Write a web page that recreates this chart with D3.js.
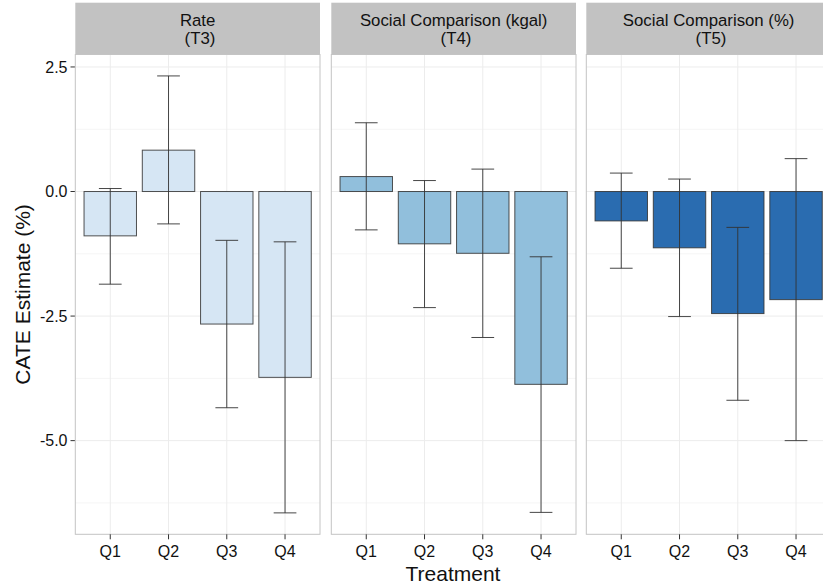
<!DOCTYPE html>
<html><head><meta charset="utf-8">
<script src="https://cdn.jsdelivr.net/npm/d3@7"></script>
<style>body{margin:0;background:#fff}svg{display:block;font-family:"Liberation Sans",Arial,sans-serif}</style>
</head><body>
<svg id="c" width="823" height="585"></svg>
<script>
const categories = ["Q1","Q2","Q3","Q4"];
const facets = ["Rate\n (T3)", "Social Comparison (kgal)\n (T4)", "Social Comparison (%)\n (T5)"];
const colors = ["#d6e6f4", "#91bfdc", "#2a6cb0"];
const est_T3 = [-0.89, 0.83, -2.66, -3.73];
const lo_T3  = [-1.86, -0.65, -4.34, -6.45];
const hi_T3  = [0.06, 2.32, -0.98, -1.01];
const est_T4 = [0.30, -1.05, -1.24, -3.87];
const lo_T4  = [-0.77, -2.33, -2.93, -6.44];
const hi_T4  = [1.38, 0.22, 0.45, -1.31];
const est_T5 = [-0.59, -1.13, -2.45, -2.17];
const lo_T5  = [-1.54, -2.51, -4.19, -5.00];
const hi_T5  = [0.37, 0.25, -0.72, 0.66];
const yTicks = [2.5, 0, -2.5, -5.0];
const yMinor = [1.25, -1.25, -3.75, -6.25];

const series = [
  {est: est_T3, lo: lo_T3, hi: hi_T3},
  {est: est_T4, lo: lo_T4, hi: hi_T4},
  {est: est_T5, lo: lo_T5, hi: hi_T5}
];

const svg = d3.select("#c");
const panelTop = 54.5, panelBottom = 534.3;
const panelLefts = [75.3, 331.3, 586.3];
const panelW = 244.7;
const stripTop = 2.7;

const y = d3.scaleLinear().domain([-6.88, 2.75]).range([panelBottom, panelTop]);

// y axis
yTicks.forEach(t => {
  svg.append("line").attr("x1", 70.5).attr("x2", 75.3).attr("y1", y(t)).attr("y2", y(t))
    .attr("stroke", "#333").attr("stroke-width", 1);
  svg.append("text").attr("x", 67.5).attr("y", y(t)).attr("dy", "0.36em").attr("text-anchor", "end")
    .attr("font-size", 16).attr("fill", "#111").text(t.toFixed(1));
});
svg.append("text").attr("transform", `translate(30,${(panelTop+panelBottom)/2}) rotate(-90)`)
  .attr("text-anchor", "middle").attr("font-size", 21).attr("fill", "#111").text("CATE Estimate (%)");

facets.forEach((f, i) => {
  const x0 = panelLefts[i];
  const step = panelW / 4.2;
  const x = d3.scalePoint().domain(categories).range([x0 + 0.6 * step, x0 + panelW - 0.6 * step]);
  const cx = c => x(c);
  const g = svg.append("g");
  // strip
  g.append("rect").attr("x", x0).attr("y", stripTop).attr("width", panelW).attr("height", panelTop - stripTop)
    .attr("fill", "#c2c2c2");
  const lines = f.split("\n");
  lines.forEach((l, k) => {
    g.append("text").attr("x", x0 + panelW / 2).attr("y", 20 + k * 18).attr("dy", "0.36em")
      .attr("text-anchor", "middle").attr("font-size", 16.8).attr("fill", "#111")
      .style("white-space", "pre").text(l);
  });
  // panel background
  g.append("rect").attr("x", x0).attr("y", panelTop).attr("width", panelW).attr("height", panelBottom - panelTop)
    .attr("fill", "#fff");
  // grid
  yMinor.forEach(t => g.append("line").attr("x1", x0).attr("x2", x0 + panelW).attr("y1", y(t)).attr("y2", y(t))
    .attr("stroke", "#f5f5f5").attr("stroke-width", 1));
  yTicks.forEach(t => g.append("line").attr("x1", x0).attr("x2", x0 + panelW).attr("y1", y(t)).attr("y2", y(t))
    .attr("stroke", "#ececec").attr("stroke-width", 1));
  categories.forEach(c => g.append("line").attr("x1", cx(c)).attr("x2", cx(c)).attr("y1", panelTop).attr("y2", panelBottom)
    .attr("stroke", "#ececec").attr("stroke-width", 1));
  // bars
  const s = series[i];
  const bw = 0.9 * step, ew = 0.39 * step;
  categories.forEach((c, k) => {
    const v = s.est[k];
    g.append("rect").attr("x", cx(c) - bw / 2).attr("width", bw)
      .attr("y", y(Math.max(0, v))).attr("height", Math.abs(y(v) - y(0)))
      .attr("fill", colors[i]).attr("stroke", "#333").attr("stroke-opacity", 0.85).attr("stroke-width", 1);
  });
  categories.forEach((c, k) => {
    const eg = g.append("g").attr("stroke", "#333").attr("stroke-width", 1).attr("stroke-opacity", 0.9);
    eg.append("line").attr("x1", cx(c)).attr("x2", cx(c)).attr("y1", y(s.hi[k])).attr("y2", y(s.lo[k]));
    eg.append("line").attr("x1", cx(c) - ew / 2).attr("x2", cx(c) + ew / 2).attr("y1", y(s.hi[k])).attr("y2", y(s.hi[k]));
    eg.append("line").attr("x1", cx(c) - ew / 2).attr("x2", cx(c) + ew / 2).attr("y1", y(s.lo[k])).attr("y2", y(s.lo[k]));
  });
  // border
  g.append("rect").attr("x", x0).attr("y", panelTop).attr("width", panelW).attr("height", panelBottom - panelTop)
    .attr("fill", "none").attr("stroke", "#c4c4c4").attr("stroke-width", 1);
  // x ticks
  categories.forEach(c => {
    g.append("line").attr("x1", cx(c)).attr("x2", cx(c)).attr("y1", panelBottom).attr("y2", panelBottom + 5)
      .attr("stroke", "#333");
    g.append("text").attr("x", cx(c)).attr("y", 551).attr("dy", "0.36em").attr("text-anchor", "middle")
      .attr("font-size", 16).attr("fill", "#111").text(c);
  });
});

svg.append("text").attr("x", 453).attr("y", 573).attr("dy", "0.36em").attr("text-anchor", "middle")
  .attr("font-size", 21).attr("fill", "#111").text("Treatment");
</script>
</body></html>
